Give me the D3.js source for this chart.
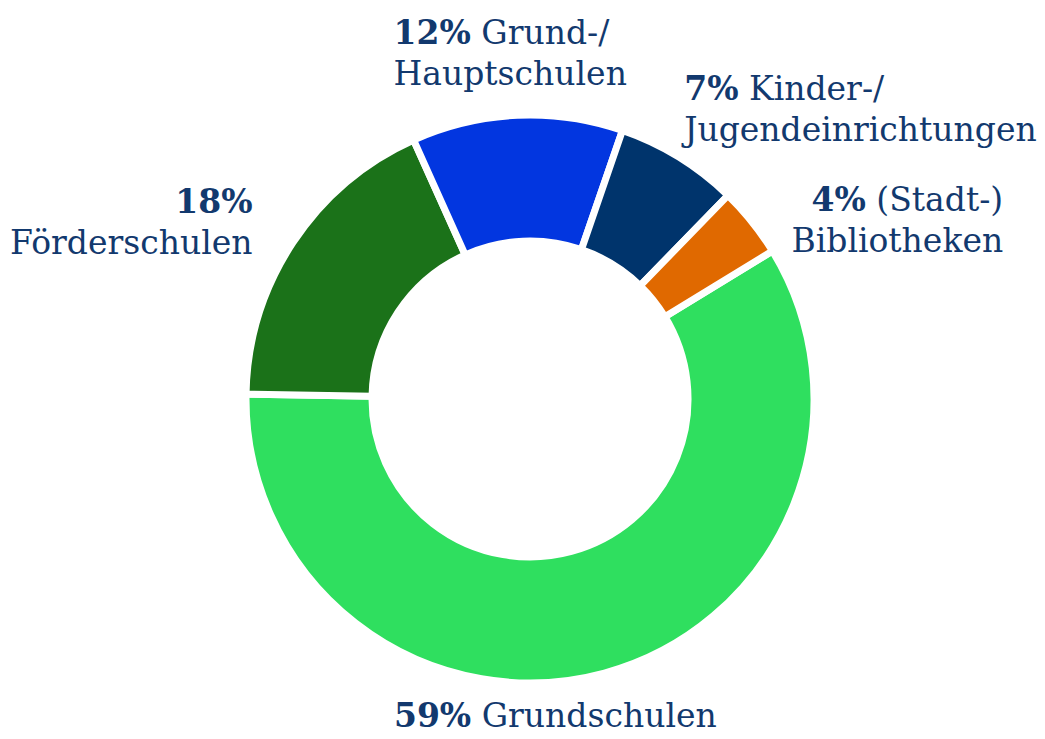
<!DOCTYPE html>
<html>
<head>
<meta charset="utf-8">
<script src="https://cdn.jsdelivr.net/npm/d3@7"></script>
<style>
  html, body { margin: 0; padding: 0; background: #fff; }
  svg { display: block; }
  .label { font-family: "DejaVu Serif", Georgia, serif; font-size: 33px; fill: #12396e; }
  .label .pct { font-weight: bold; }
</style>
</head>
<body>
<svg id="chart" width="1045" height="739"></svg>
<script>
// Shares of the donut, in drawing order (clockwise)
const categories = ['Grundschulen', 'Förderschulen', 'Grund-/Hauptschulen', 'Kinder-/Jugendeinrichtungen', '(Stadt-)Bibliotheken'];
const shares = [59, 18, 12, 7, 4];
// label lines: first line starts with the bold percentage
const labelLines = [
    ['Grundschulen'],
    ['', 'Förderschulen'],
    ['Grund-/', 'Hauptschulen'],
    ['Kinder-/', 'Jugendeinrichtungen'],
    ['(Stadt-)', 'Bibliotheken']
];
const colors = ['#2fdf5f', '#1b7219', '#0236e0', '#00346c', '#e06900'];

const width = 1045, height = 739;
const cx = 530, cy = 399;
const outerR = 284, innerR = 158;
const labelR = 300;
const lineH = 41;

// small hand nudges for the label blocks (layout only)
const labelNudge = {
    'Grundschulen': [-14, 0],
    'Förderschulen': [0, -12],
    'Grund-/Hauptschulen': [-13, -12],
    'Kinder-/Jugendeinrichtungen': [-3, 0],
    '(Stadt-)Bibliotheken': [0, 8]
};

const svg = d3.select('#chart');
const g = svg.append('g').attr('transform', `translate(${cx},${cy})`);

const data = categories.map((c, i) => ({ name: c, value: shares[i], lines: labelLines[i], color: colors[i] }));

const startDeg = 58.6;
const pie = d3.pie()
    .sort(null)
    .value(d => d.value)
    .startAngle(startDeg * Math.PI / 180)
    .endAngle(startDeg * Math.PI / 180 + 2 * Math.PI);

const arc = d3.arc().innerRadius(innerR).outerRadius(outerR);
const arcs = pie(data);

g.selectAll('.slice')
    .data(arcs)
    .enter()
    .append('path')
    .attr('class', 'slice')
    .attr('d', arc)
    .style('fill', d => d.data.color)
    .style('stroke', '#fff')
    .style('stroke-width', 7)
    .style('stroke-linejoin', 'miter');

// Labels placed around the ring, anchored by the direction of the slice
arcs.forEach(d => {
    const a = (d.startAngle + d.endAngle) / 2;
    const s = Math.sin(a), c = Math.cos(a);
    let px = s * labelR, py = -c * labelR;

    let anchor = 'middle';
    if (s > 0.3) anchor = 'start';
    else if (s < -0.3) anchor = 'end';

    let vAlign = 'middle';
    if (c > 0.7) vAlign = 'bottom';
    else if (c < -0.7) vAlign = 'top';

    if (anchor === 'middle') px = px * 0.5;
    if (vAlign === 'middle') px += anchor === 'start' ? 27 : -27;

    const nudge = labelNudge[d.data.name] || [0, 0];
    px += nudge[0];
    py += nudge[1];

    const n = d.data.lines.length;
    let firstBase;
    if (vAlign === 'bottom') firstBase = py - (n - 1) * lineH - 2;
    else if (vAlign === 'top') firstBase = py + 38;
    else firstBase = py - (n - 1) * lineH / 2 + 12;

    const t = g.append('text')
        .attr('class', 'label')
        .attr('text-anchor', anchor);

    d.data.lines.forEach((line, i) => {
        const tl = t.append('tspan')
            .attr('x', px)
            .attr('y', firstBase + i * lineH);
        if (i === 0) {
            tl.append('tspan').attr('class', 'pct').text(d.data.value + '%');
            if (line) tl.append('tspan').text(' ' + line);
        } else {
            tl.text(line);
        }
    });

    // lines are left aligned inside the block for top/bottom labels,
    // right aligned for side labels
    const lines = t.selectAll(':scope > tspan').nodes();
    const widths = lines.map(l => l.getComputedTextLength());
    const maxW = d3.max(widths);
    if (anchor === 'middle') {
        lines.forEach(l => d3.select(l).attr('x', px - maxW / 2));
        t.attr('text-anchor', 'start');
    } else if (anchor === 'start' && vAlign === 'middle') {
        lines.forEach(l => d3.select(l).attr('x', px + maxW));
        t.attr('text-anchor', 'end');
    }
});
</script>
</body>
</html>
